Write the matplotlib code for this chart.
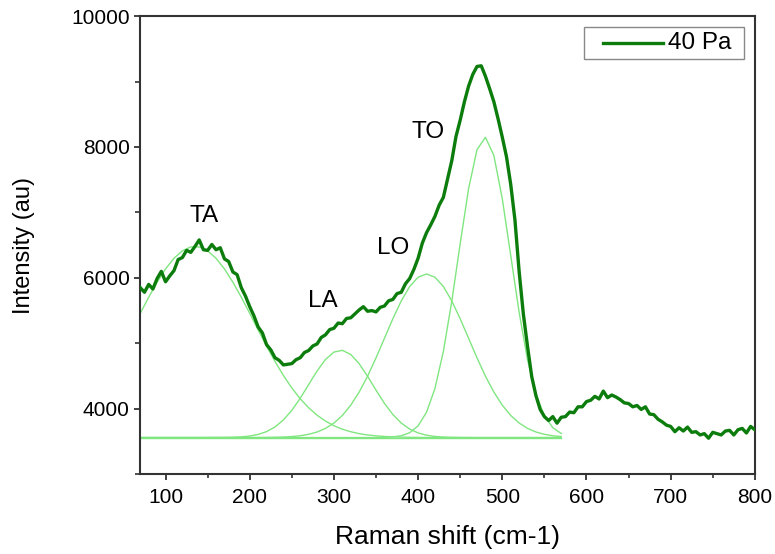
import matplotlib
matplotlib.use("Agg")
import matplotlib.pyplot as plt
from matplotlib.ticker import MultipleLocator
from matplotlib.patches import Rectangle
import numpy as np

plt.rcParams.update({
    "font.family": ["Liberation Sans", "DejaVu Sans"],
    "font.size": 15,
})

# measured Raman spectrum (40 Pa), 5 cm-1 steps
shift = np.arange(70, 805, 5)
intensity = [
    5850, 5780, 5900, 5830, 5990, 6100, 5940, 6030, 6110, 6280,
    6310, 6420, 6390, 6480, 6580, 6430, 6420, 6510, 6430, 6460,
    6290, 6250, 6090, 6050, 5850, 5720, 5560, 5420, 5250, 5160,
    4980, 4900, 4780, 4740, 4670, 4680, 4690, 4750, 4780, 4860,
    4890, 4960, 4990, 5090, 5130, 5210, 5230, 5310, 5300, 5380,
    5390, 5450, 5510, 5560, 5490, 5500, 5480, 5550, 5570, 5650,
    5670, 5760, 5780, 5910, 5990, 6130, 6300, 6530, 6690, 6810,
    6940, 7110, 7230, 7510, 7790, 8160, 8410, 8690, 8930, 9110,
    9230, 9240, 9080, 8890, 8690, 8430, 8150, 7850, 7430, 6890,
    6100, 5450, 4950, 4490, 4200, 3990, 3880, 3820, 3880, 3780,
    3870, 3880, 3950, 3940, 4030, 4030, 4110, 4130, 4190, 4150,
    4270, 4170, 4210, 4180, 4140, 4090, 4080, 4030, 4050, 3990,
    4030, 3920, 3910, 3840, 3800, 3750, 3730, 3650, 3710, 3660,
    3720, 3640, 3650, 3600, 3620, 3550, 3640, 3620, 3600, 3660,
    3670, 3600, 3680, 3700, 3630, 3730, 3680,
]

# fitted peak components on a 10 cm-1 grid (70 ... 570)
fit_x = np.arange(70, 580, 10)
ta_fit = [
    5458, 5704, 5934, 6136, 6299, 6413, 6473, 6473, 6413, 6299,
    6136, 5934, 5704, 5458, 5205, 4957, 4723, 4509, 4318, 4153,
    4015, 3902, 3812, 3741, 3688, 3649, 3620, 3600, 3586, 3577,
    3571, 3567, 3564, 3562, 3561, 3561, 3560, 3560, 3560, 3560,
    3560, 3560, 3560, 3560, 3560, 3560, 3560, 3560, 3560, 3560,
    3560,
]
la_fit = [
    3560, 3560, 3560, 3560, 3560, 3560, 3560, 3561, 3561, 3562,
    3562, 3565, 3571, 3583, 3608, 3651, 3722, 3829, 3976, 4161,
    4370, 4577, 4753, 4866, 4893, 4830, 4689, 4496, 4285, 4083,
    3913, 3782, 3690, 3631, 3596, 3577, 3568, 3564, 3562, 3561,
    3560, 3560, 3560, 3560, 3560, 3560, 3560, 3560, 3560, 3560,
    3560,
]
lo_fit = [
    3560, 3560, 3560, 3560, 3560, 3560, 3560, 3560, 3560, 3560,
    3560, 3560, 3560, 3560, 3561, 3562, 3564, 3568, 3575, 3588,
    3610, 3645, 3700, 3782, 3898, 4055, 4255, 4498, 4777, 5076,
    5375, 5648, 5868, 6010, 6060, 6010, 5868, 5648, 5375, 5076,
    4777, 4498, 4255, 4055, 3898, 3782, 3700, 3645, 3610, 3588,
    3575,
]
to_fit = [
    3560, 3560, 3560, 3560, 3560, 3560, 3560, 3560, 3560, 3560,
    3560, 3560, 3560, 3560, 3560, 3560, 3560, 3560, 3560, 3560,
    3560, 3560, 3560, 3560, 3560, 3560, 3560, 3560, 3560, 3563,
    3570, 3588, 3634, 3739, 3946, 4310, 4876, 5641, 6523, 7364,
    7960, 8148, 7870, 7209, 6344, 5474, 4746, 4222, 3893, 3711,
    3622,
]
baseline_y = 3560

peak_labels = ["TA", "LA", "LO", "TO"]
label_x = [146, 287, 370, 412]
label_y = [6950, 5650, 6460, 8230]

DARK = "#0c7d0c"
LIGHT = "#80e680"

fig = plt.figure(figsize=(7.75, 5.54), dpi=100)
ax = fig.add_axes([0.181, 0.144, 0.793, 0.827])

for comp in (ta_fit, la_fit, lo_fit, to_fit):
    ax.plot(fit_x, comp, color=LIGHT, lw=1.0, zorder=2)
ax.plot([fit_x[0], fit_x[-1]], [baseline_y, baseline_y], color=LIGHT,
        lw=1.0, zorder=2)

ax.plot(shift, intensity, color=DARK, lw=2.4, zorder=3)

for lbl, lx, ly in zip(peak_labels, label_x, label_y):
    ax.text(lx, ly, lbl, ha="center", va="center", fontsize=17.5)

ax.set_xlim(70, 800)
ax.set_ylim(3000, 10000)
ax.xaxis.set_major_locator(MultipleLocator(100))
ax.xaxis.set_minor_locator(MultipleLocator(50))
ax.set_yticks([4000, 6000, 8000, 10000])
ax.yaxis.set_minor_locator(MultipleLocator(1000))
ax.tick_params(which="both", direction="out", color="#333333",
               top=False, right=False, labelsize=15)
ax.tick_params(axis="x", which="major", length=4.5, width=1.3, pad=5.5)
ax.tick_params(axis="x", which="minor", length=3, width=1.2)
ax.tick_params(axis="y", which="major", length=4.5, width=1.3, pad=3)
ax.tick_params(axis="y", which="minor", length=3.5, width=1.2)
for sp in ax.spines.values():
    sp.set_linewidth(1.5)
    sp.set_color("#333333")

ax.set_xlabel("Raman shift (cm-1)", fontsize=19, labelpad=13)
ax.set_ylabel("Intensity (au)", fontsize=17, labelpad=26)

# legend box, drawn in axes fractions
ax.add_patch(Rectangle((0.722, 0.906), 0.260, 0.070, transform=ax.transAxes,
                       facecolor="white", edgecolor="#888888", lw=1.0,
                       zorder=5))
ax.plot([0.753, 0.850], [0.941, 0.941], transform=ax.transAxes,
        color=DARK, lw=2.4, zorder=6)
ax.text(0.859, 0.941, "40 Pa", transform=ax.transAxes, ha="left",
        va="center", fontsize=17.5, zorder=6)

fig.savefig("out.png", dpi=100)
